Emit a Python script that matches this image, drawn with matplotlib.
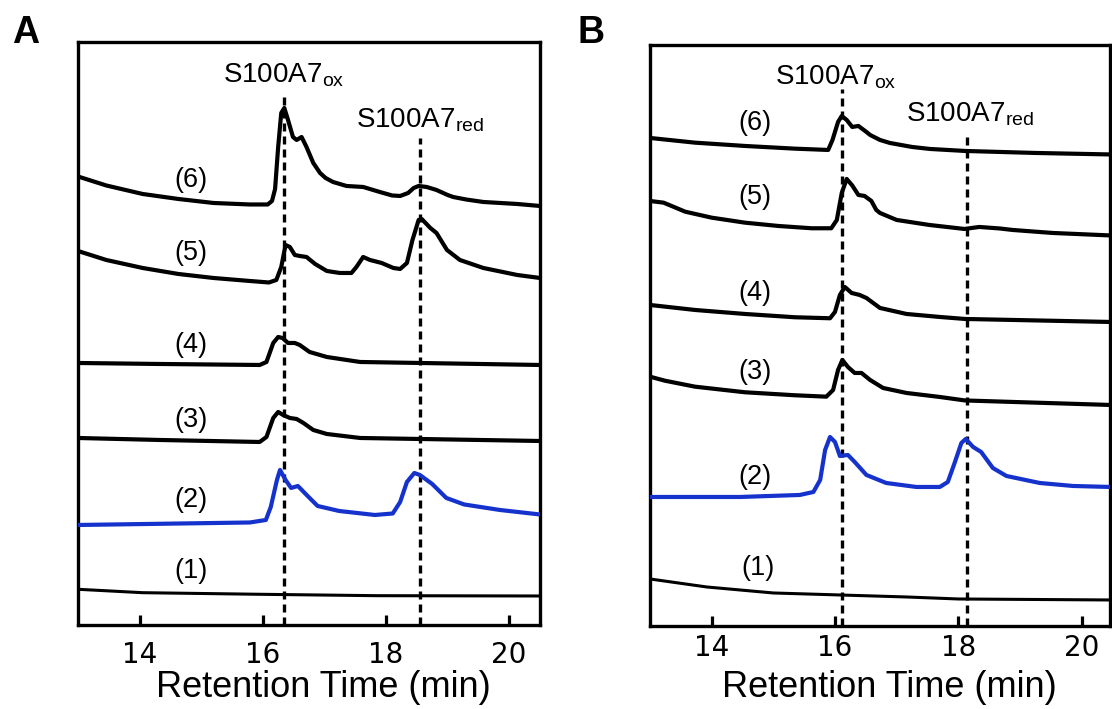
import matplotlib
matplotlib.use("Agg")
import matplotlib.pyplot as plt

plt.rcParams['font.family'] = ['Liberation Sans', 'DejaVu Sans']

# ---------------- Panel A chromatograms (time in min, signal in a.u.) ----------------
a6_t = [13.0, 13.46, 14.05, 14.63, 15.2, 15.79, 16.08, 16.15, 16.20, 16.25, 16.30, 16.35,
        16.41, 16.49, 16.55, 16.63, 16.71, 16.82, 16.93, 17.02, 17.14, 17.36, 17.63, 17.90,
        18.10, 18.23, 18.36, 18.45, 18.53, 18.66, 18.82, 19.0, 19.09, 19.30, 19.58, 20.13, 20.5]
a6_s = [44.85, 43.95, 43.1, 42.6, 42.2, 42.05, 42.05, 42.4, 43.6, 47.8, 51.2, 51.7,
        50.5, 48.8, 48.5, 48.8, 47.8, 46.2, 45.2, 44.7, 44.3, 43.9, 43.8, 43.3,
        42.95, 42.9, 43.2, 43.7, 43.9, 43.8, 43.5, 43.0, 42.8, 42.55, 42.3, 42.1, 41.9]

a5_t = [13.0, 13.46, 14.05, 14.63, 15.2, 15.79, 16.10, 16.22, 16.30, 16.37, 16.44, 16.52,
        16.60, 16.71, 16.85, 17.04, 17.25, 17.44, 17.52, 17.63, 17.74, 17.93, 18.12, 18.23,
        18.34, 18.43, 18.53, 18.58, 18.72, 18.82, 18.99, 19.20, 19.58, 20.13, 20.5]
a5_s = [37.4, 36.5, 35.7, 35.1, 34.7, 34.4, 34.25, 34.5, 35.8, 38.0, 37.8, 37.0,
        36.9, 36.8, 36.1, 35.4, 35.2, 35.2, 35.8, 36.8, 36.5, 36.2, 35.7, 35.6,
        36.2, 38.5, 40.5, 40.6, 39.7, 39.2, 37.5, 36.5, 35.7, 35.0, 34.7]

a4_t = [13.0, 14.33, 15.95, 16.06, 16.17, 16.25, 16.32, 16.41, 16.52, 16.60, 16.76, 17.04,
        17.58, 19.04, 20.5]
a4_s = [26.2, 26.1, 26.0, 26.3, 28.2, 28.8, 28.7, 28.2, 28.2, 28.0, 27.3, 26.8,
        26.3, 26.15, 26.0]

a3_t = [13.0, 14.33, 15.95, 16.06, 16.17, 16.25, 16.33, 16.44, 16.55, 16.66, 16.82, 17.04,
        17.58, 19.04, 20.5]
a3_s = [18.7, 18.5, 18.3, 18.8, 20.7, 21.3, 21.0, 20.7, 20.6, 20.2, 19.5, 19.1,
        18.7, 18.55, 18.4]

a2_t = [13.0, 15.79, 16.05, 16.13, 16.23, 16.28, 16.37, 16.46, 16.57, 16.72, 16.89, 17.24,
        17.82, 18.11, 18.23, 18.34, 18.46, 18.55, 18.75, 18.98, 19.27, 19.85, 20.5]
a2_s = [10.0, 10.25, 10.5, 11.8, 14.5, 15.5, 14.5, 13.7, 13.9, 12.95, 11.9, 11.4,
        11.0, 11.15, 12.3, 14.3, 15.2, 15.0, 14.1, 12.7, 12.05, 11.5, 11.05]

a1_t = [13.0, 14.05, 15.95, 17.85, 20.5]
a1_s = [3.57, 3.23, 3.07, 2.93, 2.9]

# ---------------- Panel B chromatograms ----------------
b6_t = [13.0, 13.73, 14.54, 15.35, 15.89, 15.96, 16.05, 16.11, 16.19, 16.28, 16.38, 16.51,
        16.57, 16.73, 16.89, 17.25, 17.54, 18.11, 19.25, 20.47]
b6_s = [48.8, 48.33, 48.0, 47.73, 47.6, 48.6, 50.4, 51.0, 50.6, 49.9, 50.0, 49.4,
        49.1, 48.6, 48.3, 47.9, 47.7, 47.5, 47.3, 47.15]

b5_t = [13.0, 13.22, 13.35, 13.57, 14.0, 14.54, 15.08, 15.62, 15.94, 16.03, 16.11, 16.19,
        16.28, 16.38, 16.48, 16.59, 16.67, 16.73, 17.0, 17.53, 18.10, 18.34, 18.67, 18.88,
        19.53, 20.47]
b5_s = [42.5, 42.33, 42.0, 41.43, 40.83, 40.33, 40.0, 39.77, 39.77, 40.6, 43.3, 44.7,
        44.05, 43.1, 43.0, 42.5, 41.6, 41.3, 40.6, 40.1, 39.7, 39.9, 39.75, 39.6,
        39.3, 39.05]

b4_t = [13.0, 13.73, 14.54, 15.35, 15.92, 16.0, 16.08, 16.16, 16.27, 16.40, 16.51, 16.73,
        17.16, 17.70, 18.11, 20.47]
b4_s = [32.1, 31.6, 31.2, 30.87, 30.77, 31.4, 33.1, 33.9, 33.3, 33.1, 32.8, 31.8,
        31.2, 30.9, 30.7, 30.4]

b3_t = [13.0, 13.24, 13.73, 14.54, 15.35, 15.86, 15.97, 16.05, 16.12, 16.21, 16.32, 16.43,
        16.57, 16.78, 17.16, 17.70, 18.11, 20.47]
b3_s = [24.93, 24.53, 23.93, 23.37, 23.07, 22.93, 23.6, 25.6, 26.6, 25.9, 25.3, 25.3,
        24.6, 23.8, 23.3, 22.9, 22.55, 22.1]

b2_t = [13.0, 14.46, 15.43, 15.65, 15.76, 15.84, 15.92, 16.0, 16.08, 16.21, 16.32, 16.51,
        16.83, 17.32, 17.70, 17.83, 17.94, 18.05, 18.12, 18.24, 18.37, 18.56, 18.78, 19.32,
        19.86, 20.47]
b2_s = [12.9, 12.9, 13.1, 13.4, 14.6, 17.6, 18.9, 18.4, 17.0, 17.1, 16.4, 15.1,
        14.3, 13.9, 13.9, 14.4, 16.3, 18.3, 18.7, 17.9, 17.4, 15.8, 15.0, 14.3,
        14.0, 13.9]

b1_t = [13.0, 13.92, 15.0, 16.08, 17.16, 18.0, 20.47]
b1_s = [4.7, 3.9, 3.3, 3.1, 2.9, 2.7, 2.6]

# peak retention times of the two S100A7 forms
ox_a, red_a = 16.34, 18.55
ox_b, red_b = 16.11, 18.14

trace_names = ['(1)', '(2)', '(3)', '(4)', '(5)', '(6)']
xticks = [14, 16, 18, 20]

blue = '#1533cc'
black = '#000000'


def draw_panel(ax, traces, label_x, label_y, ox, red, ox_lab, red_lab, xmax, ymax, tick_pad):
    for i, (t, s) in enumerate(traces):
        color = blue if i == 1 else black
        lw = 2.2 if i == 0 else 3.0
        ax.plot(t, s, color=color, lw=lw, solid_joinstyle='round', solid_capstyle='butt', zorder=3)
    for name, lx, ly in zip(trace_names, label_x, label_y):
        ax.text(lx, ly, name, fontsize=19.5, ha='center', va='center')

    # marker lines for oxidized / reduced forms
    ax.vlines(ox, 0, ox_lab[2], colors='black', linestyles=(0, (2.4, 1.5)), lw=2.4, zorder=2)
    ax.vlines(red, 0, red_lab[2], colors='black', linestyles=(0, (2.4, 1.5)), lw=2.4, zorder=2)
    ax.text(ox_lab[0], ox_lab[1], r'$\mathregular{S100A7_{ox}}$', fontsize=20,
            ha='center', va='baseline')
    ax.text(red_lab[0], red_lab[1], r'$\mathregular{S100A7_{red}}$', fontsize=20,
            ha='center', va='baseline')

    ax.set_xlim(13, xmax)
    ax.set_ylim(0, ymax)
    ax.set_yticks([])
    ax.set_xticks(xticks)
    ax.set_xticklabels([str(v) for v in xticks], family='DejaVu Sans', fontsize=20)
    ax.tick_params(axis='x', direction='in', length=7.2, width=2.3, pad=tick_pad)
    for sp in ax.spines.values():
        sp.set_linewidth(2.4)
    ax.set_xlabel('Retention Time (min)', fontsize=26, va='baseline')


fig = plt.figure(figsize=(11.12, 7.09), dpi=100)
ax_a = fig.add_axes([0.0701, 0.1185, 0.4155, 0.8223])
ax_b = fig.add_axes([0.5845, 0.1171, 0.4137, 0.8195])

draw_panel(ax_a,
           [(a1_t, a1_s), (a2_t, a2_s), (a3_t, a3_s), (a4_t, a4_s), (a5_t, a5_s), (a6_t, a6_s)],
           [14.83] * 6, [5.4, 12.5, 20.5, 28.0, 37.2, 44.5],
           ox_a, red_a, (ox_a, 54.2, 53.1), (red_a, 49.7, 48.7), 20.5, 58.3, 11.5)
ax_a.xaxis.set_label_coords(0.532, -0.124)

draw_panel(ax_b,
           [(b1_t, b1_s), (b2_t, b2_s), (b3_t, b3_s), (b4_t, b4_s), (b5_t, b5_s), (b6_t, b6_s)],
           [14.75, 14.70, 14.70, 14.70, 14.70, 14.70], [5.8, 14.9, 25.4, 33.3, 42.9, 50.3],
           ox_b, red_b, (16.01, 54.1, 53.7), (18.19, 50.4, 48.9), 20.46, 58.1, 5.5)
ax_b.xaxis.set_label_coords(0.52, -0.122)

fig.text(12 / 1112, 1 - 43 / 709, 'A', fontsize=27, fontweight='bold', va='baseline')
fig.text(578 / 1112, 1 - 43 / 709, 'B', fontsize=27, fontweight='bold', va='baseline')

fig.savefig('out.png', dpi=100)
